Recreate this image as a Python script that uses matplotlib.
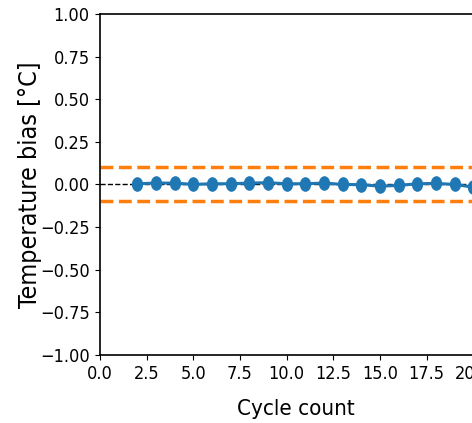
import matplotlib
matplotlib.use("Agg")
import matplotlib.pyplot as plt
from matplotlib.path import Path
from matplotlib.transforms import Affine2D

# cycles and measured temperature bias
cycles = [2, 3, 4, 5, 6, 7, 8, 9, 10, 11, 12, 13, 14, 15, 16, 17, 18, 19, 20]
bias = [0.004, 0.008, 0.008, 0.000, 0.004, 0.004, 0.008, 0.010, 0.004, 0.004,
        0.008, 0.000, -0.002, -0.010, -0.006, 0.004, 0.006, 0.000, -0.016]
limit = 0.1

plt.rcParams["font.family"] = ["DejaVu Sans"]
plt.rcParams["font.stretch"] = "condensed"

# the reference looks squeezed sideways, so use a narrow dot
dot = Path.unit_circle().transformed(Affine2D().scale(0.75, 1.0))

fig = plt.figure(figsize=(4.72, 4.23), dpi=100)
ax = fig.add_axes([0.212, 0.161, 0.83, 0.806])

ax.axhline(0, color="black", linestyle="--", linewidth=1)
ax.axhline(limit, color="C1", linestyle="--", linewidth=2.5)
ax.axhline(-limit, color="C1", linestyle="--", linewidth=2.5)
ax.plot(cycles, bias, "-", color="C0", linewidth=2.2, marker=dot, markersize=9.5)

ax.set_xlim(0, 21)
ax.set_ylim(-1, 1)
ax.set_xticks([0, 2.5, 5, 7.5, 10, 12.5, 15, 17.5, 20])
ax.set_xlabel("Cycle count", fontsize=16, labelpad=11.5)
ax.set_ylabel("Temperature bias [°C]", fontsize=18)
ax.yaxis.set_label_coords(-0.148, 0.5)
ax.tick_params(labelsize=13, pad=4)
for s in ax.spines.values():
    s.set_linewidth(1.2)

fig.savefig("out.png", dpi=100)
